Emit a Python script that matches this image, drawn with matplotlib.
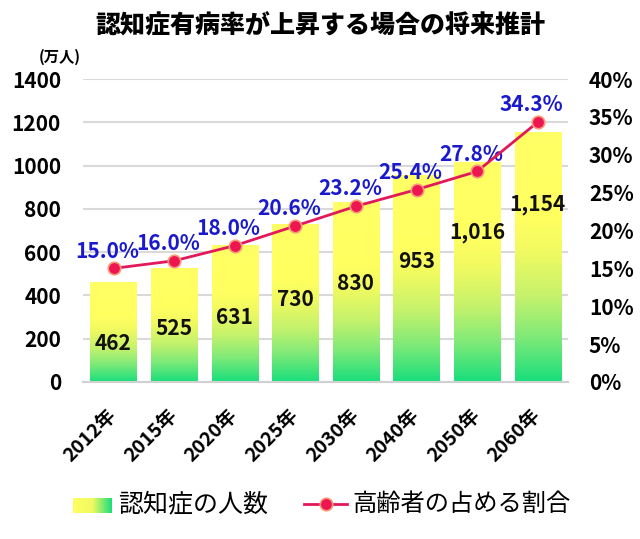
import matplotlib
matplotlib.use("Agg")
import matplotlib.pyplot as plt
import matplotlib.transforms as mtransforms
import numpy as np
from matplotlib.colors import LinearSegmentedColormap
from matplotlib.lines import Line2D

plt.rcParams["font.family"] = ["Noto Sans CJK JP", "DejaVu Sans"]

years = ["2012年", "2015年", "2020年", "2025年", "2030年", "2040年", "2050年", "2060年"]
patients = [462, 525, 631, 730, 830, 953, 1016, 1154]
ratio = [15.0, 16.0, 18.0, 20.6, 23.2, 25.4, 27.8, 34.3]

# where the count labels sit inside each bar (left axis units)
label_y = [180, 245, 300, 379, 457, 555, 693, 818]

grad = LinearSegmentedColormap.from_list(
    "yg", [(0.0, "#18de7c"), (0.18, "#80ea78"), (0.34, "#c4f26c"),
           (0.52, "#f0fa60"), (0.65, "#ffff60"), (1.0, "#ffff66")]
)

fig = plt.figure(figsize=(6.4, 5.39), dpi=100)
ax = fig.add_axes([0.13, 0.2913, 0.7575, 0.5621])
ax2 = ax.twinx()

x = np.arange(len(years))
w = 0.76
g = np.linspace(0, 1, 256).reshape(-1, 1)
for xi, v in zip(x, patients):
    ax.imshow(g, cmap=grad, origin="lower", aspect="auto",
              extent=(xi - w / 2, xi + w / 2, 0, v), zorder=2)

for xi, v, ly in zip(x, patients, label_y):
    ax.text(xi, ly, f"{v:,}", ha="center", va="center",
            fontsize=15, fontweight="bold", color="#111111", zorder=4)

ax.set_xlim(-0.5, len(years) - 0.5)
ax.set_ylim(0, 1400)
ax.set_yticks(range(0, 1401, 200))
ax.set_yticklabels([str(v) for v in range(0, 1401, 200)],
                   fontsize=15, fontweight="bold")
ax.grid(axis="y", color="#d9d9d9", linewidth=1.5, zorder=0)
ax.set_axisbelow(True)
ax.set_xticks(x)
ax.set_xticklabels(years, rotation=45, ha="right", va="center",
                   rotation_mode="anchor", fontsize=14, fontweight="bold")
shift = mtransforms.ScaledTranslation(7 / 72, 0, fig.dpi_scale_trans)
for lbl in ax.get_xticklabels():
    lbl.set_transform(lbl.get_transform() + shift)
ax.tick_params(axis="x", length=0, pad=22)
ax.tick_params(axis="y", length=0, pad=16)
for s in ["top", "right", "left"]:
    ax.spines[s].set_visible(False)
ax.spines["bottom"].set_color("#d0d0d0")
ax.spines["bottom"].set_linewidth(1.5)

ax2.plot(x, ratio, color="#e2185a", linewidth=2, marker="o", markersize=9,
         markerfacecolor="#ee1650", markeredgecolor="#f79a7a",
         markeredgewidth=1.2, zorder=5)
for xi, r in zip(x, ratio):
    ax2.text(xi - 0.1, r + 0.9, f"{r:.1f}%", ha="center", va="bottom",
             fontsize=15, fontweight="bold", color="#1a1acc")
ax2.set_ylim(0, 40)
ax2.set_yticks(range(0, 41, 5))
ax2.set_yticklabels([f"{v}%" for v in range(0, 41, 5)], fontsize=15,
                    fontweight="bold")
ax2.tick_params(axis="y", length=0, pad=15)
for s in ax2.spines.values():
    s.set_visible(False)

fig.text(0.5, 1 - 26 / 539, "認知症有病率が上昇する場合の将来推計", ha="center",
         va="center", fontsize=18, fontweight="black")
fig.text(60 / 640, 1 - 57 / 539, "(万人)", ha="center", va="center",
         fontsize=11, fontweight="bold")

# legend built by hand
leg_y = 1 - 504 / 539
lax = fig.add_axes([73 / 640, 1 - 513 / 539, 39 / 640, 15 / 539])
lax.imshow(np.linspace(0, 1, 256).reshape(1, -1), cmap=LinearSegmentedColormap.from_list(
    "yl", ["#ffff62", "#f0fa60", "#18de7c"]), aspect="auto")
lax.axis("off")
fig.text(118 / 640, leg_y, "認知症の人数", ha="left", va="center", fontsize=18)
fig.add_artist(Line2D([304 / 640, 347 / 640], [leg_y] * 2, color="#e2185a",
                      linewidth=2))
fig.add_artist(Line2D([326 / 640], [leg_y], marker="o", markersize=9,
                      markerfacecolor="#ee1650", markeredgecolor="#f79a7a",
                      markeredgewidth=1.2))
fig.text(352 / 640, leg_y, "高齢者の占める割合", ha="left", va="center", fontsize=17.5)

fig.savefig("out.png", dpi=100)
